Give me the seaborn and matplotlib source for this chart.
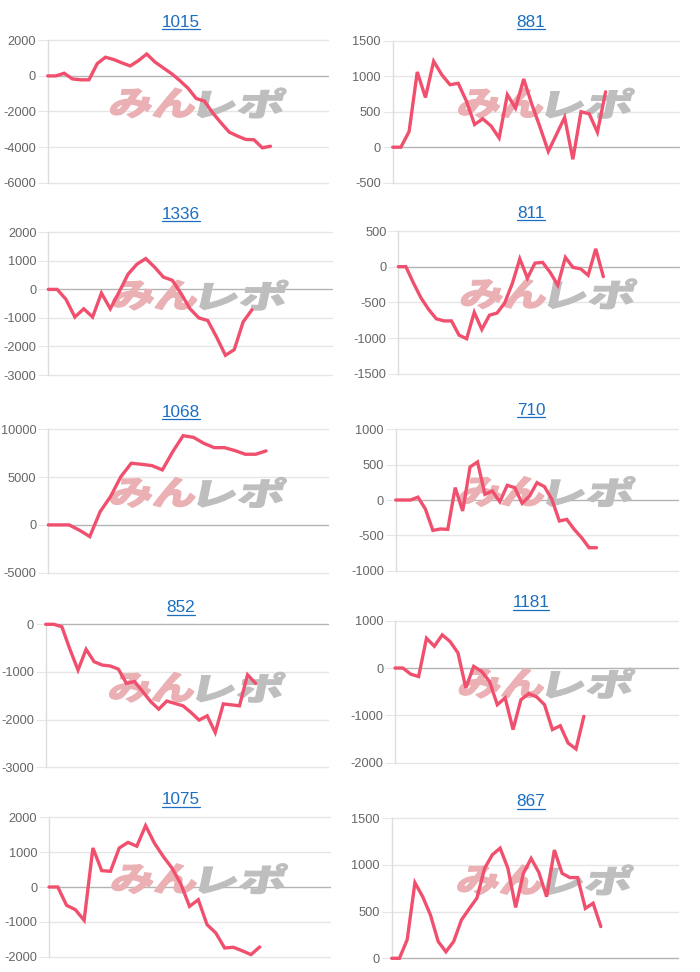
import numpy as np
import pandas as pd
import seaborn as sns
import matplotlib
matplotlib.use("Agg")
import matplotlib.pyplot as plt
from matplotlib.textpath import TextPath
from matplotlib.patches import PathPatch
from matplotlib.font_manager import FontProperties
from matplotlib.transforms import Affine2D
from matplotlib.lines import Line2D

# ---------------- data ----------------
titles = ["1015", "881", "1336", "811", "1068", "710", "852", "1181", "1075", "867"]
# number of x-axis slots (category labels) of each chart
slots = [35, 36, 33, 38, 28, 39, 36, 37, 33, 38]

v1015 = [0, 0, 150, -170, -220, -220, 690, 1050, 920, 730, 560, 860, 1230, 780, 450, 130,
         -260, -690, -1270, -1420, -2080, -2640, -3160, -3380, -3570, -3590, -4040, -3950]
v881 = [0, 0, 220, 1060, 700, 1210, 1020, 880, 900, 650, 320, 400, 300, 130, 740, 550, 960,
        600, 280, -60, 180, 420, -170, 500, 470, 210, 780]
v1336 = [0, 0, -350, -970, -680, -970, -130, -680, -90, 530, 880, 1080, 780, 430, 320, -150,
         -680, -1000, -1090, -1670, -2310, -2110, -1140, -710]
v811 = [0, 0, -230, -440, -600, -730, -760, -760, -960, -1010, -640, -880, -680, -650, -510,
        -240, 110, -160, 50, 60, -80, -260, 130, -10, -30, -120, 250, -140]
v1068 = [0, 0, 0, -550, -1220, 1390, 2960, 5050, 6450, 6340, 6200, 5750, 7660, 9330, 9160,
         8530, 8080, 8080, 7770, 7390, 7390, 7740]
v710 = [0, 0, 0, 40, -130, -430, -410, -415, 175, -155, 467, 538, 80, 127, -24, 208, 175, -47,
        57, 245, 189, 9, -297, -274, -415, -533, -675, -675]
v852 = [0, 0, -50, -525, -960, -525, -785, -855, -875, -940, -1240, -1200, -1410, -1620, -1780,
        -1610, -1660, -1710, -1850, -2010, -1920, -2270, -1670, -1690, -1710, -1060, -1240]
v1181 = [0, 0, -130, -180, 630, 460, 700, 560, 320, -420, 35, -70, -280, -775, -630, -1300,
         -670, -540, -610, -775, -1300, -1220, -1585, -1710, -1020]
v1075 = [0, 0, -525, -650, -955, 1120, 470, 450, 1120, 1280, 1170, 1760, 1260, 880, 545, 96,
         -555, -365, -1080, -1320, -1750, -1730, -1830, -1940, -1720]
v867 = [0, 0, 200, 810, 660, 465, 180, 70, 180, 410, 530, 645, 965, 1110, 1180, 965, 545, 910,
        1070, 920, 660, 1160, 910, 865, 865, 535, 590, 340]
series = [v1015, v881, v1336, v811, v1068, v710, v852, v1181, v1075, v867]

# y-axis ranges (min, max, step)
ymins = [-6000, -500, -3000, -1500, -5000, -1000, -3000, -2000, -2000, 0]
ymaxs = [2000, 1500, 2000, 500, 10000, 1000, 0, 1000, 2000, 1500]
ysteps = [2000, 500, 1000, 500, 5000, 500, 1000, 1000, 1000, 500]

# ---------------- layout (pixels) ----------------
W, H = 700, 972
# plot boxes: x0, x1, ytop, ybottom
boxes = [
    (47.7, 328.3, 40.3, 182.7), (392.7, 679.3, 40.7, 182.7),
    (48.3, 331.7, 232.3, 375.0), (398.3, 679.3, 231.0, 373.7),
    (48.3, 328.3, 429.3, 572.7), (395.7, 678.3, 429.3, 570.7),
    (45.7, 328.3, 624.3, 767.3), (395.0, 678.3, 620.7, 762.7),
    (49.0, 330.0, 817.3, 956.7), (391.7, 678.3, 818.3, 958.3),
]
title_x = [181, 531] * 5
title_base = [27, 27, 219, 218, 417, 415, 612, 607, 804, 806]

LINE = "#F0506E"
BLUE = "#1B6EC2"
GRID = "#E6E6E6"
ZERO = "#B4B4B4"
TICKC = "#666666"

sns.set_theme(style="white")
plt.rcParams["font.family"] = ["Liberation Sans", "DejaVu Sans"]

fig = plt.figure(figsize=(W / 100, H / 100), dpi=100)
fig.patch.set_facecolor("white")

fp = FontProperties(family="Noto Sans CJK JP", weight=900)


def add_mark(ax, cx, cy):
    for txt, col, dx in [("みん", "#EAB0B4", -44), ("レポ", "#BEBEBE", 44)]:
        tp = TextPath((0, 0), txt, size=50, prop=fp)
        bb = tp.get_extents()
        tr = (Affine2D()
              .translate(-bb.x0 - bb.width / 2, -bb.y0 - bb.height / 2)
              .scale(84 / bb.width, 30 / bb.height)
              .skew_deg(12, 0)
              .translate(cx + dx, H - cy)
              .scale(1 / W, 1 / H))
        path = tr.transform_path(tp)
        patch = PathPatch(path, facecolor=col, edgecolor=col, linewidth=0.8,
                          transform=fig.transFigure, zorder=1, clip_on=False)
        ax.add_artist(patch)


titles_txt = []
for i in range(10):
    x0, x1, yt, yb = boxes[i]
    ax = fig.add_axes([x0 / W, 1 - yb / H, (x1 - x0) / W, (yb - yt) / H])
    ax.set_facecolor("none")
    vals = series[i]
    df = pd.DataFrame({"x": np.arange(len(vals)), "y": vals})
    sns.lineplot(data=df, x="x", y="y", ax=ax, color=LINE, linewidth=2.4, zorder=3)
    for ln in ax.lines:
        ln.set_clip_on(False)
        ln.set_solid_joinstyle("miter")
    ticks = np.arange(ymins[i], ymaxs[i] + 1, ysteps[i])
    for t in ticks:
        ax.axhline(t, color=(ZERO if t == 0 else GRID), lw=1.0, zorder=0.5, clip_on=False)
    ax.set_xlim(0, slots[i] - 1)
    ax.set_ylim(ymins[i], ymaxs[i])
    ax.set_xticks([])
    ax.set_yticks(ticks)
    ax.set_yticklabels([str(int(t)) for t in ticks])
    ax.set_xlabel("")
    ax.set_ylabel("")
    ax.tick_params(axis="y", left=True, length=7, width=0.75, color=GRID, pad=1.5,
                   labelsize=9.2, labelcolor=TICKC)
    for tk, t in zip(ax.yaxis.get_major_ticks(), ticks):
        if t == 0:
            tk.tick1line.set_color(ZERO)
    for s in ["top", "right", "bottom"]:
        ax.spines[s].set_visible(False)
    ax.spines["left"].set_color("#DDDDDD")
    ax.spines["left"].set_linewidth(1.0)
    cx = x0 + 0.535 * (x1 - x0)
    cy = yt + 0.44 * (yb - yt)
    add_mark(ax, cx, cy)
    tt = fig.text(title_x[i] / W, 1 - title_base[i] / H, titles[i], ha="center",
                  va="baseline", fontsize=12.3, color=BLUE)
    titles_txt.append((tt, title_base[i]))

fig.canvas.draw()
for tt, base in titles_txt:
    bb = tt.get_window_extent()
    yl = 1 - (base + 2.5) / H
    fig.add_artist(Line2D([bb.x0 / W, bb.x1 / W], [yl, yl], color=BLUE, lw=0.9,
                          transform=fig.transFigure))

fig.savefig("out.png", dpi=100, facecolor="white")
